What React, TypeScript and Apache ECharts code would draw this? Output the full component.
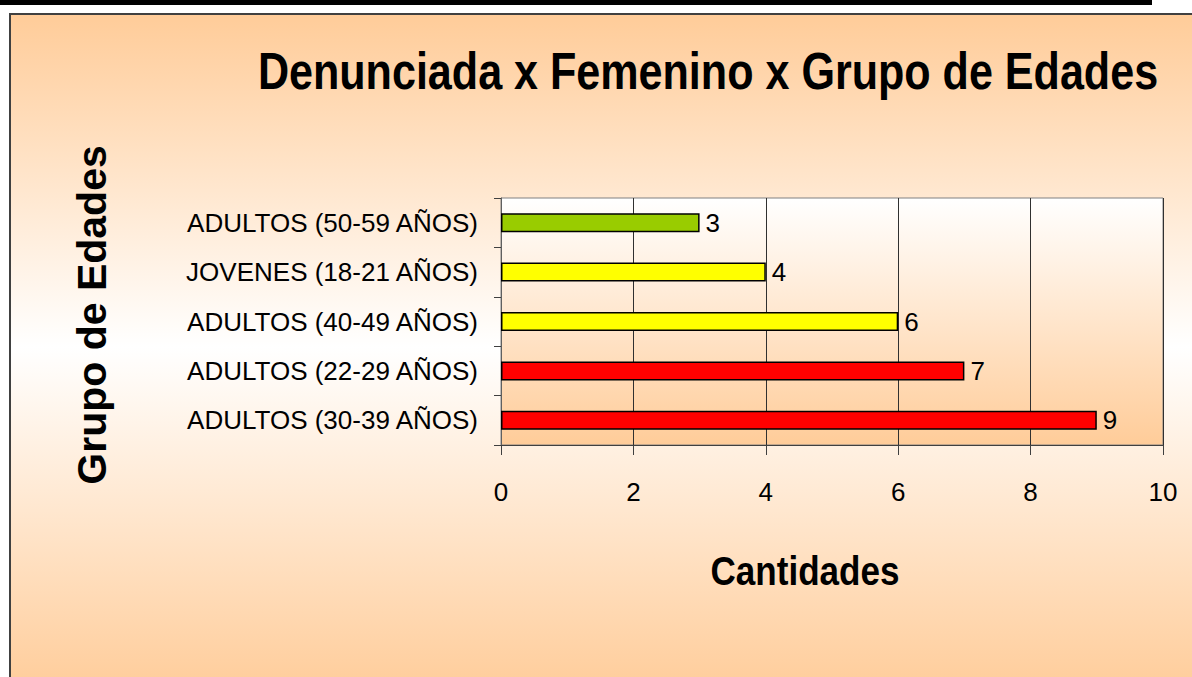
import React, { useEffect, useRef } from "react";
import * as echarts from "echarts";

const categories = [
  "ADULTOS (30-39 AÑOS)",
  "ADULTOS (22-29 AÑOS)",
  "ADULTOS (40-49 AÑOS)",
  "JOVENES (18-21 AÑOS)",
  "ADULTOS (50-59 AÑOS)",
];
const values = [9, 7, 6, 4, 3];
const barColors = ["#FF0000", "#FF0000", "#FFFF00", "#FFFF00", "#99CC00"];
const xTicks = [0, 2, 4, 6, 8, 10];

const titleText = "Denunciada x Femenino x Grupo de Edades";
const xTitle = "Cantidades";
const yTitle = "Grupo de Edades";

const FONT = "'Liberation Sans', Arial, sans-serif";

export default function App() {
  const ref = useRef<HTMLDivElement>(null);
  useEffect(() => {
    if (!ref.current) return;
    const chart = echarts.init(ref.current, null, { renderer: "svg" });
    chart.setOption({
      animation: false,
      graphic: [
        {
          type: "rect",
          z: -10,
          shape: { x: 0, y: 0, width: 1152, height: 5 },
          style: { fill: "#000" },
        },
        {
          type: "rect",
          z: -10,
          shape: { x: 10, y: 14, width: 1200, height: 680 },
          style: {
            stroke: "#404040",
            lineWidth: 2,
            fill: new echarts.graphic.LinearGradient(0, 0, 0, 1, [
              { offset: 0, color: "#FFCC99" },
              { offset: 0.49, color: "#FFFFFF" },
              { offset: 1, color: "#FFCC99" },
            ]),
          },
        },
        {
          type: "text",
          x: 708,
          y: 46,
          scaleX: 0.845,
          style: {
            text: titleText,
            fontFamily: FONT,
            fontWeight: "bold",
            fontSize: 51,
            fill: "#000",
            align: "center",
            verticalAlign: "top",
          },
        },
        {
          type: "text",
          x: 805,
          y: 550,
          scaleX: 0.855,
          style: {
            text: xTitle,
            fontFamily: FONT,
            fontWeight: "bold",
            fontSize: 41,
            fill: "#000",
            align: "center",
            verticalAlign: "top",
          },
        },
        {
          type: "text",
          x: 92,
          y: 315,
          rotation: Math.PI / 2,
          style: {
            text: yTitle,
            fontFamily: FONT,
            fontWeight: "bold",
            fontSize: 41,
            fill: "#000",
            align: "center",
            verticalAlign: "middle",
          },
        },
      ],
      grid: {
        left: 501,
        top: 198,
        right: 29,
        bottom: 232,
        containLabel: false,
        show: true,
        borderColor: "#808080",
        borderWidth: 1,
        backgroundColor: new echarts.graphic.LinearGradient(0, 0, 0, 1, [
          { offset: 0, color: "#FFFFFF" },
          { offset: 1, color: "#FFCC99" },
        ]),
      },
      xAxis: {
        type: "value",
        min: xTicks[0],
        max: xTicks[xTicks.length - 1],
        interval: 2,
        axisLine: { show: true, lineStyle: { color: "#404040", width: 1 } },
        axisTick: { show: true, length: 10, lineStyle: { color: "#404040" } },
        splitLine: { show: true, lineStyle: { color: "#303030", width: 1 } },
        axisLabel: { margin: 34, fontFamily: FONT, fontSize: 26, color: "#000" },
      },
      yAxis: {
        type: "category",
        data: categories,
        axisLine: { show: true, lineStyle: { color: "#606060", width: 1 } },
        axisTick: { show: true, length: 7, lineStyle: { color: "#404040" } },
        axisLabel: { margin: 23, fontFamily: FONT, fontSize: 26, color: "#000" },
      },
      series: [
        {
          type: "bar",
          data: values.map((v, i) => ({ value: v, itemStyle: { color: barColors[i] } })),
          barWidth: 19,
          itemStyle: { borderColor: "#000", borderWidth: 1.5 },
          label: {
            show: true,
            position: "right",
            distance: 6,
            fontFamily: FONT,
            fontSize: 26,
            color: "#000",
          },
        },
      ],
    });
    return () => chart.dispose();
  }, []);
  return (
    <div
      ref={ref}
      style={{ position: "absolute", left: 0, top: 0, width: 1192, height: 677 }}
    />
  );
}
